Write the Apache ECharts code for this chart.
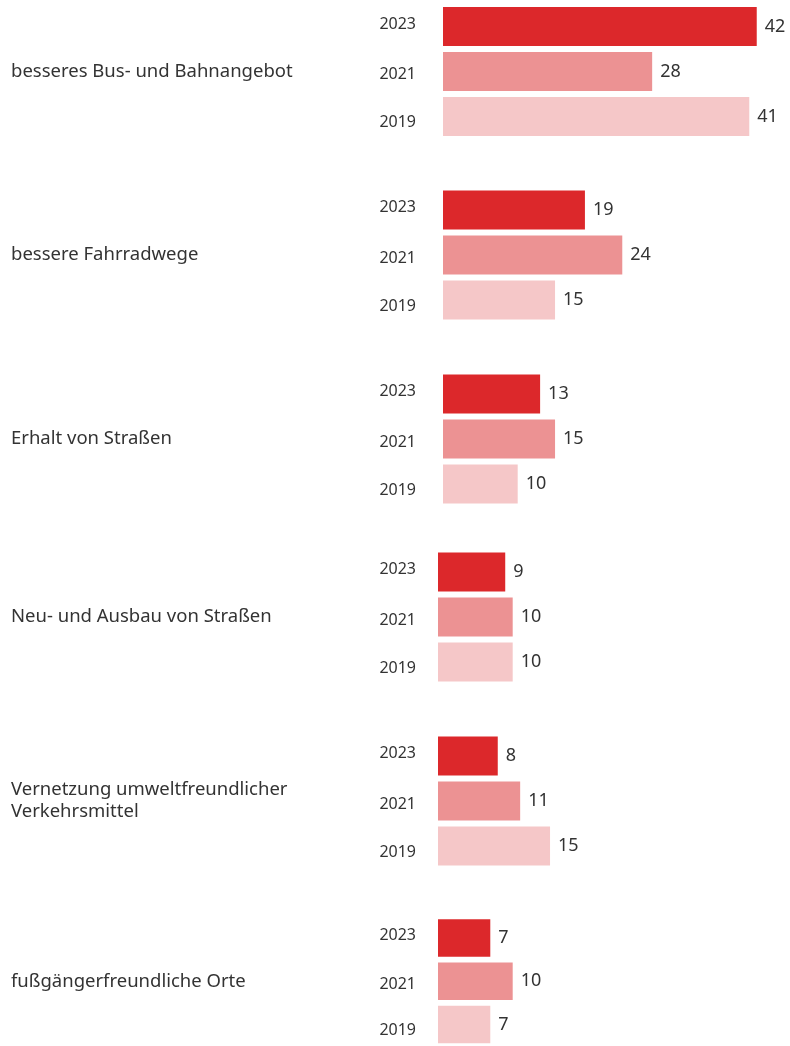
<!DOCTYPE html>
<html>
<head>
<meta charset="utf-8">
<script src="https://cdn.jsdelivr.net/npm/echarts@6/dist/echarts.min.js"></script>
<style>
  html, body { margin: 0; padding: 0; background: #fff; }
  #chart { width: 790px; height: 1046px; }
</style>
</head>
<body>
<div id="chart"></div>
<script>
// Kategorien und Werte (Prozent)
var categories = [
    'besseres Bus- und Bahnangebot',
    'bessere Fahrradwege',
    'Erhalt von Straßen',
    'Neu- und Ausbau von Straßen',
    'Vernetzung umweltfreundlicher\nVerkehrsmittel',
    'fußgängerfreundliche Orte'
];
var years = ['2023', '2021', '2019'];
var values2023 = [42, 19, 13, 9, 8, 7];
var values2021 = [28, 24, 15, 10, 11, 10];
var values2019 = [41, 15, 10, 10, 15, 7];

var colors = ['#dc282b', '#ec9293', '#f5c7c8'];
var groupTops = [4, 187.5, 371.5, 549.5, 733.5, 916.5];
var groupLefts = [443, 443, 443, 438, 438, 438];

var chart = echarts.init(document.getElementById('chart'));

// Jahreslabels sitzen leicht versetzt zu den Balken
var yearRich = {
    y0: { padding: [0, 0, 5, 0], color: '#333', fontSize: 16, fontFamily: 'Noto Sans' },
    y1: { padding: [6, 0, 0, 0], color: '#333', fontSize: 16, fontFamily: 'Noto Sans' },
    y2: { padding: [12, 0, 0, 0], color: '#333', fontSize: 16, fontFamily: 'Noto Sans' }
};

var grids = [], xAxes = [], yAxes = [], series = [];
categories.forEach(function (name, i) {
    grids.push({
        left: groupLefts[i],
        top: groupTops[i],
        width: 336.15,
        height: 135,
        containLabel: false
    });
    xAxes.push({
        gridIndex: i,
        type: 'value',
        min: 0,
        max: 45,
        show: false
    });
    yAxes.push({
        gridIndex: i,
        type: 'category',
        inverse: true,
        data: years,
        axisLine: { show: false },
        axisTick: { show: false },
        splitLine: { show: false },
        axisLabel: {
            margin: groupLefts[i] - 416,
            color: '#333',
            fontSize: 16,
            fontFamily: 'Noto Sans',
            formatter: function (v, idx) {
                return '{y' + idx + '|' + v + '}';
            },
            rich: yearRich
        },
        name: name,
        nameLocation: 'middle',
        nameRotate: 0,
        nameGap: groupLefts[i] - 11,
        nameTextStyle: {
            align: 'left',
            color: '#333',
            fontSize: 18.5,
            lineHeight: 22,
            fontFamily: 'Noto Sans'
        }
    });
    series.push({
        type: 'bar',
        xAxisIndex: i,
        yAxisIndex: i,
        barCategoryGap: '13%',
        data: [values2023[i], values2021[i], values2019[i]].map(function (v, k) {
            return { value: v, itemStyle: { color: colors[k] } };
        }),
        label: {
            show: true,
            position: 'right',
            distance: 8,
            color: '#333',
            fontSize: 18,
            fontFamily: 'Noto Sans'
        },
        silent: true
    });
});

chart.setOption({
    animation: false,
    grid: grids,
    xAxis: xAxes,
    yAxis: yAxes,
    series: series
});
</script>
</body>
</html>
